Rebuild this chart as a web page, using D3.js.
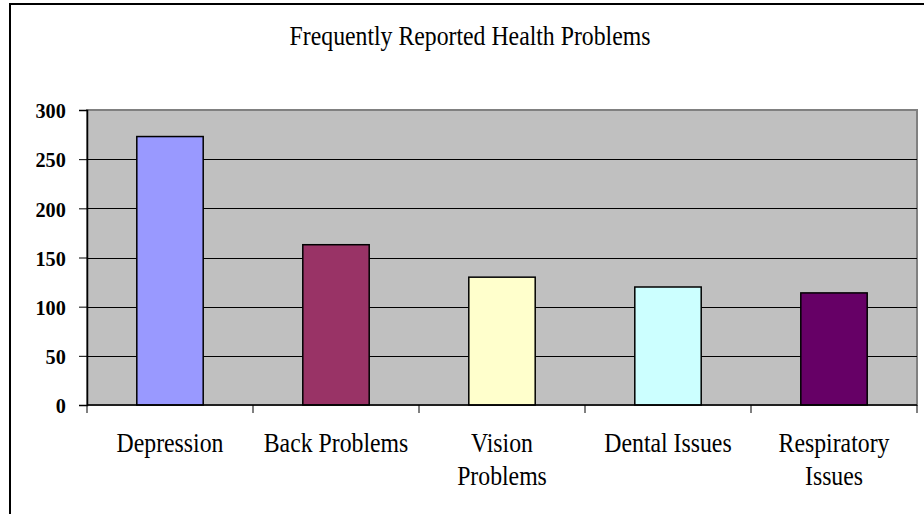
<!DOCTYPE html>
<html lang="en">
<head>
  <meta charset="utf-8" />
  <title>Frequently Reported Health Problems</title>
  <script src="https://d3js.org/d3.v7.min.js"></script>
  <style>
    body { margin: 0; background: #fff; }
    svg { display: block; }
    text { font-family: "Liberation Serif", "Times New Roman", serif; fill: #000; }
  </style>
</head>
<body>
<script>
  // chart data
  var categories = ["Depression", "Back Problems", "Vision Problems", "Dental Issues", "Respiratory Issues"];
  var labelLines = [["Depression"], ["Back Problems"], ["Vision", "Problems"], ["Dental Issues"], ["Respiratory", "Issues"]];
  var values = [273, 163, 130, 120, 114];
  var colors = ["#9999FF", "#993366", "#FFFFCC", "#CCFFFF", "#660066"];
  var yTicks = [0, 50, 100, 150, 200, 250, 300];
  var title = "Frequently Reported Health Problems";

  var w = 924, h = 514;
  var plot = { left: 87, right: 917, top: 110, bottom: 405 };
  var squeeze = "scale(0.88,1)";   // the original font is a narrow serif

  var svg = d3.select("body").append("svg")
    .attr("width", w)
    .attr("height", h);

  // outer chart border (runs off the right and bottom edges)
  svg.append("rect")
    .attr("x", 10).attr("y", 4)
    .attr("width", 940).attr("height", 540)
    .attr("fill", "#fff")
    .attr("stroke", "#000")
    .attr("stroke-width", 2);

  svg.append("text")
    .attr("transform", "translate(470,45) " + squeeze)
    .attr("text-anchor", "middle")
    .style("font-size", "27px")
    .text(title);

  var x = d3.scaleBand()
    .domain(categories)
    .range([plot.left, plot.right])
    .padding(0);

  var y = d3.scaleLinear()
    .domain([0, 300])
    .range([plot.bottom, plot.top]);

  // plot area
  svg.append("rect")
    .attr("x", plot.left).attr("y", plot.top)
    .attr("width", plot.right - plot.left)
    .attr("height", plot.bottom - plot.top)
    .attr("fill", "#C0C0C0")
    .attr("stroke", "#808080")
    .attr("stroke-width", 2);

  // gridlines
  svg.selectAll("line.grid")
    .data(yTicks.filter(function(d){ return d > 0 && d < 300; }))
    .enter().append("line")
    .attr("class", "grid")
    .attr("x1", plot.left).attr("x2", plot.right)
    .attr("y1", function(d){ return Math.round(y(d)) + 0.5; })
    .attr("y2", function(d){ return Math.round(y(d)) + 0.5; })
    .attr("stroke", "#000")
    .attr("stroke-width", 1);

  // bars
  var barW = x.bandwidth() * 0.4;
  svg.selectAll("rect.bar")
    .data(values)
    .enter().append("rect")
    .attr("class", "bar")
    .attr("x", function(d, i){ return x(categories[i]) + (x.bandwidth() - barW) / 2; })
    .attr("y", function(d){ return y(d); })
    .attr("width", barW)
    .attr("height", function(d){ return y(0) - y(d); })
    .attr("fill", function(d, i){ return colors[i]; })
    .attr("stroke", "#000")
    .attr("stroke-width", 1.5);

  // y axis
  var yAxis = svg.append("g")
    .attr("transform", "translate(" + plot.left + ",0)")
    .call(d3.axisLeft(y).tickValues(yTicks).tickSize(8).tickPadding(15));
  yAxis.select(".domain").attr("stroke", "#000").attr("stroke-width", 1.5);
  yAxis.selectAll(".tick line").attr("stroke", "#000");
  yAxis.selectAll(".tick text")
    .style("font-size", "22px")
    .style("font-weight", "bold")
    .attr("dy", "0.35em")
    .attr("transform", "scale(0.92,1)");

  // x axis: ticks at category boundaries
  var xAxisG = svg.append("g");
  xAxisG.append("line")
    .attr("x1", plot.left).attr("x2", plot.right)
    .attr("y1", plot.bottom).attr("y2", plot.bottom)
    .attr("stroke", "#000").attr("stroke-width", 1.5);
  var bounds = categories.map(function(c){ return x(c); }).concat([x.range()[1]]);
  xAxisG.selectAll("line.xt")
    .data(bounds)
    .enter().append("line")
    .attr("class", "xt")
    .attr("x1", function(d){ return d; }).attr("x2", function(d){ return d; })
    .attr("y1", plot.bottom).attr("y2", plot.bottom + 8)
    .attr("stroke", "#000");

  var labels = xAxisG.selectAll("text.xl")
    .data(categories)
    .enter().append("text")
    .attr("class", "xl")
    .attr("text-anchor", "middle")
    .style("font-size", "27px")
    .attr("transform", function(d){ return "translate(" + (x(d) + x.bandwidth() / 2) + ",452) " + squeeze; });
  labels.selectAll("tspan")
    .data(function(d, i){ return labelLines[i]; })
    .enter().append("tspan")
    .attr("x", 0)
    .attr("y", function(d, j){ return j * 33; })
    .text(function(d){ return d; });
</script>
</body>
</html>
